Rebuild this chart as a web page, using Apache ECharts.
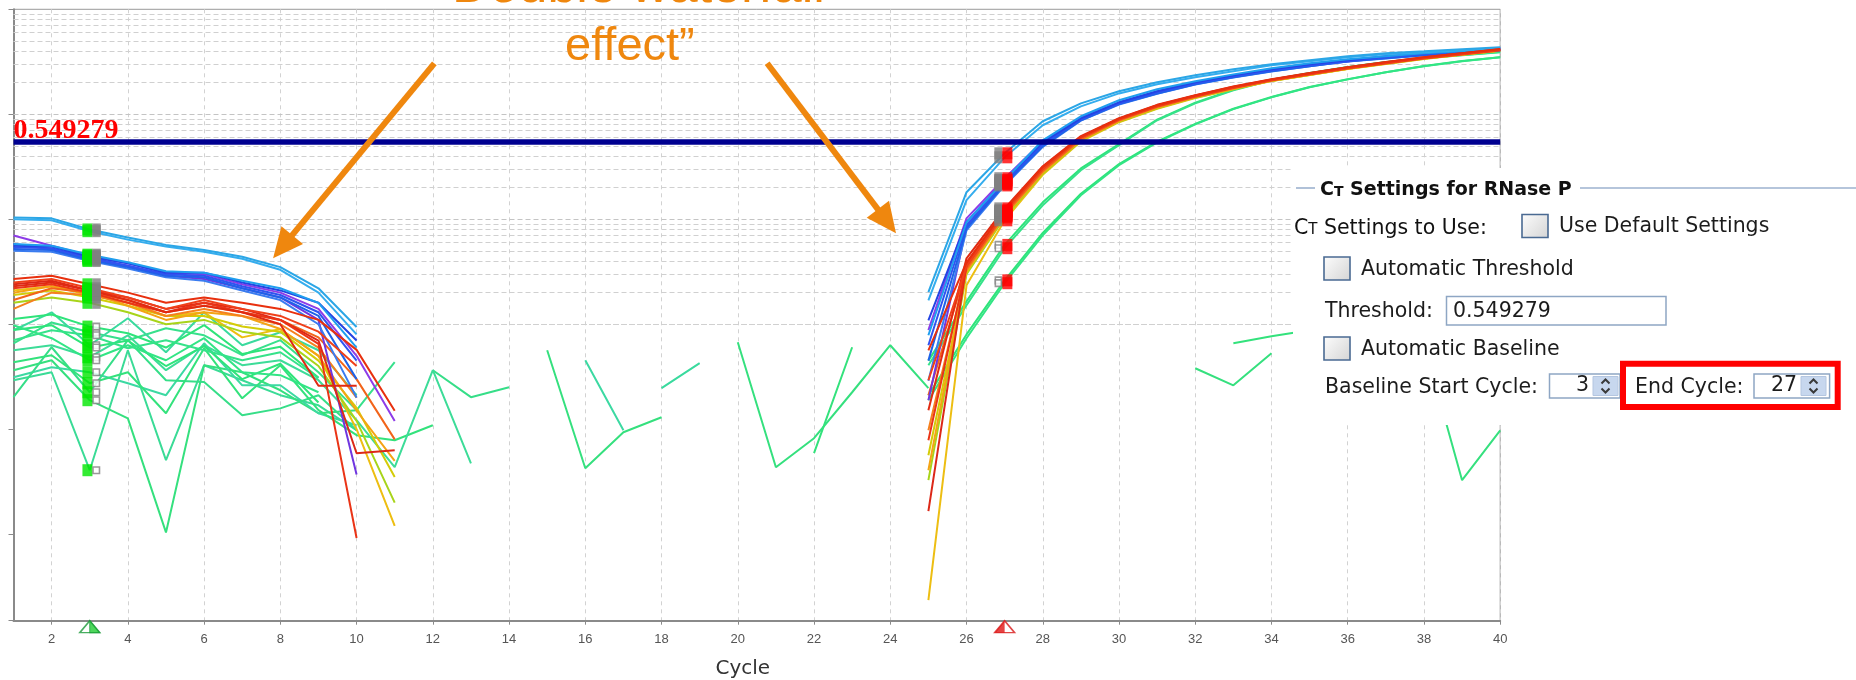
<!DOCTYPE html>
<html><head><meta charset="utf-8">
<script src="https://cdn.jsdelivr.net/npm/echarts@6/dist/echarts.min.js"></script>
<style>html,body{margin:0;padding:0;background:#fff}#chart{width:1856px;height:680px}</style>
</head><body><div id="chart"></div>
<script>
const _ = null;
const cycles = [1,2,3,4,5,6,7,8,9,10,11,12,13,14,15,16,17,18,19,20,21,22,23,24,25,26,27,28,29,30,31,32,33,34,35,36,37,38,39,40];
const xTickLabels = [2,4,6,8,10,12,14,16,18,20,22,24,26,28,30,32,34,36,38,40];
const threshold = 0.549279;
const thresholdLabel = '0.549279';
const baselineStart = 3;
const baselineEnd = 27;
const yMin = 1.5e-5, yMax = 10;

// Normalized fluorescence per cycle (cycles 1..40), null = not drawn (<= 0)
const lightBlue1 = [0.104,0.102,0.080,0.067,0.057,0.051,0.044,0.035,0.022,0.0094,_, _,_,_,_,_,_,_,_,_,_,_,_,_, 0.0202,0.181,0.425,0.858,1.27,1.66,2.02,2.35,2.68,2.99,3.27,3.57,3.81,3.98,4.16,4.35];
const lightBlue2 = [0.100,0.098,0.077,0.064,0.055,0.049,0.042,0.033,0.020,0.0080,_, _,_,_,_,_,_,_,_,_,_,_,_,_, 0.0169,0.152,0.389,0.786,1.19,1.58,1.93,2.25,2.57,2.93,3.20,3.49,3.73,3.89,4.07,4.25];
const lightBlue3 = [0.058,0.056,0.046,0.039,0.032,0.031,0.026,0.022,0.016,0.0060,_, _,_,_,_,_,_,_,_,_,_,_,_,_, 0.00785,0.0936,0.235,0.565,0.957,1.36,1.73,2.06,2.40,2.74,3.06,3.34,3.57,3.81,3.98,4.25];
const blue1 = [0.056,0.055,0.044,0.038,0.031,0.031,0.025,0.021,0.016,0.0070,_, _,_,_,_,_,_,_,_,_,_,_,_,_, 0.0109,0.094,0.235,0.541,0.916,1.30,1.66,2.02,2.35,2.68,2.99,3.27,3.57,3.81,3.98,4.25];
const blue2 = [0.054,0.053,0.043,0.036,0.030,0.029,0.023,0.019,0.013,0.0045,_, _,_,_,_,_,_,_,_,_,_,_,_,_, 0.0063,0.0877,0.225,0.518,0.896,1.27,1.62,1.97,2.30,2.62,2.93,3.20,3.49,3.73,3.89,4.16];
const blue3 = [0.052,0.051,0.041,0.035,0.029,0.028,0.022,0.018,0.012,0.0030,_, _,_,_,_,_,_,_,_,_,_,_,_,_, 0.0045,0.082,0.216,0.496,0.877,1.25,1.58,1.93,2.25,2.57,2.87,3.20,3.41,3.65,3.89,4.07];
const blue4 = [0.050,0.049,0.040,0.034,0.028,0.026,0.021,0.017,0.010,0.0020,_, _,_,_,_,_,_,_,_,_,_,_,_,_, 0.0029,0.0785,0.210,0.490,0.870,1.24,1.57,1.92,2.24,2.56,2.86,3.18,3.40,3.64,3.88,4.06];
const purple1 = [0.070,0.056,0.045,0.038,0.031,0.030,0.024,0.020,0.014,0.0050,0.0012, _,_,_,_,_,_,_,_,_,_,_,_,_, 0.0088,0.102,0.246,0.553,0.936,1.30,1.66,2.02,2.35,2.68,2.99,3.27,3.57,3.81,3.98,4.25];
const purple2 = [0.058,0.052,0.042,0.036,0.029,0.027,0.022,0.018,0.011,0.00037,_, _,_,_,_,_,_,_,_,_,_,_,_,_, 0.00189,0.085,0.220,0.510,0.890,1.26,1.60,1.95,2.28,2.60,2.90,3.19,3.45,3.70,3.88,4.12];
const red1 = [0.027,0.029,0.024,0.020,0.016,0.018,0.016,0.014,0.011,0.0057,0.0015, _,_,_,_,_,_,_,_,_,_,_,_,_, 0.00565,0.0389,0.122,0.315,0.61,0.91,1.22,1.51,1.83,2.15,2.46,2.80,3.13,3.49,3.81,4.16];
const red2 = [0.025,0.027,0.022,0.018,0.014,0.017,0.014,0.012,0.0085,0.0040,_, _,_,_,_,_,_,_,_,_,_,_,_,_, 0.00293,0.0357,0.117,0.300,0.60,0.89,1.19,1.48,1.79,2.11,2.40,2.74,3.06,3.41,3.73,4.07];
const red3 = [0.023,0.025,0.021,0.017,0.013,0.015,0.013,0.010,0.0026,0.0026,_, _,_,_,_,_,_,_,_,_,_,_,_,_, 0.00152,0.0425,0.127,0.320,0.62,0.92,1.23,1.52,1.84,2.16,2.47,2.81,3.14,3.50,3.82,4.18];
const red4 = [0.022,0.024,0.020,0.016,0.013,0.016,0.013,0.011,0.0065,0.000092,_, _,_,_,_,_,_,_,_,_,_,_,_,_, 0.000785,0.036,0.118,0.305,0.60,0.90,1.20,1.49,1.80,2.12,2.42,2.76,3.08,3.43,3.75,4.10];
const red5 = [0.024,0.026,0.021,0.018,0.014,0.016,0.014,0.011,0.0070,0.00059,0.00063, _,_,_,_,_,_,_,_,_,_,_,_,_, 0.000166,0.037,0.120,0.310,0.605,0.905,1.21,1.50,1.81,2.13,2.44,2.78,3.10,3.45,3.78,4.12];
const orange1 = [0.017,0.022,0.020,0.017,0.013,0.015,0.013,0.011,0.0075,0.0030,0.0008, _,_,_,_,_,_,_,_,_,_,_,_,_, 0.00211,0.0341,0.112,0.290,0.58,0.88,1.18,1.47,1.78,2.11,2.40,2.74,3.06,3.41,3.73,4.07];
const orange2 = [0.014,0.020,0.019,0.016,0.012,0.014,0.012,0.010,0.0060,0.0020,_, _,_,_,_,_,_,_,_,_,_,_,_,_, 0.000977,0.033,0.110,0.285,0.575,0.87,1.17,1.46,1.77,2.10,2.39,2.73,3.05,3.40,3.72,4.06];
const orange3 = [0.020,0.023,0.020,0.015,0.011,0.013,0.012,0.009,0.0050,0.0015,0.0005, _,_,_,_,_,_,_,_,_,_,_,_,_, 0.000407,0.032,0.108,0.280,0.57,0.86,1.16,1.45,1.76,2.09,2.38,2.72,3.04,3.39,3.71,4.05];
const yellow1 = [0.019,0.021,0.018,0.015,0.012,0.012,0.0095,0.0085,0.0045,0.0016,0.00035, _,_,_,_,_,_,_,_,_,_,_,_,_, 0.000565,0.0313,0.107,0.278,0.565,0.855,1.15,1.45,1.75,2.09,2.38,2.72,3.04,3.39,3.71,4.05];
const yellowGreen = [0.016,0.018,0.016,0.013,0.010,0.011,0.0085,0.0075,0.0040,0.0012,0.00020, _,_,_,_,_,_,_,_,_,_,_,_,_, 0.000327,0.030,0.104,0.272,0.56,0.85,1.14,1.44,1.74,2.08,2.37,2.71,3.03,3.38,3.70,4.04];
const yellow2 = [0.021,0.023,0.019,0.016,0.012,0.013,0.0075,0.0090,0.0050,0.0010,0.00012, _,_,_,_,_,_,_,_,_,_,_,_,_, 0.0000235,0.0235,0.0977,0.265,0.55,0.84,1.13,1.43,1.73,2.07,2.36,2.70,3.02,3.37,3.69,4.03];
const greenAmp1 = [0.00705,0.00877,0.00785,0.00591,0.00705,0.00565,0.00454,0.00541,0.00306,_,_, _,_,_,_,_,_,_,_,_,_,_,_,_, 0.00407,0.0152,0.053,0.136,0.293,0.507,0.877,1.27,1.69,2.11,2.46,2.80,3.13,3.41,3.65,3.89];
const greenAmp1b = [0.0112,0.0124,0.0095,0.0082,0.0060,0.0098,0.0052,0.0061,0.0031,_,_, _,_,_,_,_,_,_,_,_,_,_,_,_, 0.0045,0.0165,0.057,0.145,0.305,0.52,0.89,1.29,1.71,2.13,2.48,2.82,3.15,3.43,3.67,3.91];
const greenAmp2 = [0.00977,0.00736,0.00454,0.00631,0.00454,0.00736,0.00349,0.00327,0.00225,_,_, _,_,_,_,_,_,_,_,_,_,_,_,_, 0.00189,0.00736,0.0246,0.0704,0.169,0.327,0.541,0.803,1.12,1.45,1.81,2.15,2.51,2.87,3.20,3.49];
const greenAmp2b = [0.0088,0.0098,0.0060,0.0070,0.0040,0.0062,0.0030,0.0042,0.0018,_,_, _,_,_,_,_,_,_,_,_,_,_,_,_, 0.0021,0.0080,0.0262,0.074,0.175,0.335,0.55,0.81,1.13,1.46,1.82,2.16,2.52,2.88,3.21,3.50];
const green1 = [0.00877,0.0130,0.00631,0.0114,0.00541,0.0130,0.00631,0.00839,0.00565,0.00211,_, _,_,_,_,_,_,0.00246,0.00426,_,_,_,_,_, _,_,_,_,_,_,_,_,_,_,_,_,_,_,_,_];
const green2 = [0.00659,0.0104,0.00839,0.00705,0.00916,0.00785,0.00507,0.00705,0.00349,0.00152,0.00435, _,_,_,_,_,_,_,_,_,_,_,_,_, _,_,_,_,_,_,_,_,_,_,_,_,_,_,_,_];
const green3 = [0.00565,0.00631,0.00485,0.00785,0.00365,0.00631,0.00407,0.00454,0.00293,0.00122,0.000435, 0.00365,0.000474,_,_,_,_,_,_,_,_,_,_,_, _,_,_,_,_,_,_,_,_,_,_,_,_,_,_,_];
const green4 = [0.00435,0.00507,0.00274,0.00349,0.00142,0.00591,0.00197,0.00407,0.00152,0.000877,0.000785, 0.00109,_,_,_,_,_,_,_,_,_,0.000591,0.00604,_, _,_,_,_,_,_,_,_,0.00659,0.00769,0.00877,_,_,_,_,_];
const green5 = [0.00202,0.00604,0.00225,0.00705,0.00293,0.00281,0.00136,0.00158,0.00211,0.000977,_, 0.00365,0.00202,0.00251,_,_,_,_,_,_,_,_,_,_, _,_,_,_,_,_,_,_,_,_,_,_,_,_,_,_];
const green6 = [0.00293,0.00349,0.000407,0.00565,0.000507,0.00407,0.00293,0.00211,0.00169,0.000977,_, _,_,_,_,_,_,_,_,_,_,_,_,_, _,_,_,_,_,_,_,_,_,_,_,_,_,_,_,_];
const green7 = [0.00365,0.00454,0.00189,0.00127,0.000104,0.00407,0.00349,0.00235,0.00142,0.00152,_, _,_,_,0.00565,0.000425,0.000936,0.0013,_,0.00674,0.000435,0.000821,0.00225,0.00631, 0.00246,_,_,_,_,_,_,0.00381,0.00262,0.0053,_,_,_,0.00659,0.000327,0.000977];
const green8 = [0.00313,0.00389,0.00349,0.00274,0.00211,0.00659,0.00262,0.00262,0.00142,0.00109,_, _,_,_,_,0.00454,0.000977,_,_,_,_,_,_,_, _,_,_,_,_,_,_,_,_,_,_,_,_,_,_,_];

const curves = [
  {name:'green6', values:green6, color:'#3ADB96', green:true},
  {name:'green7', values:green7, color:'#35E07E', green:true},
  {name:'green8', values:green8, color:'#3CD9A2', green:true},
  {name:'green5', values:green5, color:'#36DE88', green:true},
  {name:'green4', values:green4, color:'#33E27C', green:true},
  {name:'green3', values:green3, color:'#3DDC98', green:true},
  {name:'green2', values:green2, color:'#38E08C', green:true},
  {name:'green1', values:green1, color:'#3ADA9E', green:true},
  {name:'greenAmp2b', values:greenAmp2b, color:'#2EE47A', green:true},
  {name:'greenAmp2', values:greenAmp2, color:'#32E585', green:true},
  {name:'greenAmp1b', values:greenAmp1b, color:'#2EE47A', green:true},
  {name:'greenAmp1', values:greenAmp1, color:'#36E28A', green:true},
  {name:'yellow2', values:yellow2, color:'#EDBE12'},
  {name:'yellowGreen', values:yellowGreen, color:'#A8D41A'},
  {name:'yellow1', values:yellow1, color:'#D4CC08'},
  {name:'orange3', values:orange3, color:'#F4A414'},
  {name:'orange2', values:orange2, color:'#F5801E'},
  {name:'orange1', values:orange1, color:'#F2641A'},
  {name:'purple2', values:purple2, color:'#7036E0'},
  {name:'purple1', values:purple1, color:'#8E3CE8'},
  {name:'blue4', values:blue4, color:'#3A7CF0'},
  {name:'blue3', values:blue3, color:'#1E62E8'},
  {name:'blue2', values:blue2, color:'#2F54F0'},
  {name:'blue1', values:blue1, color:'#2344E4'},
  {name:'lightBlue3', values:lightBlue3, color:'#1F9EEE'},
  {name:'lightBlue2', values:lightBlue2, color:'#35ADEE'},
  {name:'lightBlue1', values:lightBlue1, color:'#2BA6E6'},
  {name:'red5', values:red5, color:'#DC2818'},
  {name:'red4', values:red4, color:'#EA3416'},
  {name:'red3', values:red3, color:'#E02A12'},
  {name:'red2', values:red2, color:'#F0401A'},
  {name:'red1', values:red1, color:'#E8300E'}
];

// grid line values of the log axis
const decadeValues = [1e-4, 1e-3, 1e-2, 1e-1, 1];
const minorMultipliers = [2,3,4,5,6,7,8,9];
const minorValues = [];
[1e-5,1e-4,1e-3,1e-2,1e-1,1].forEach(d => minorMultipliers.forEach(m => { const v = m*d; if (v > yMin && v < yMax) minorValues.push(v); }));

// annotation arrows (cycle, value): tail -> tip
const arrowLeft = {from:[12.04, 3.06], to:[7.81, 0.0425]};
const arrowRight = {from:[20.77, 3.06], to:[24.15, 0.0736]};

const startIdx = cycles.indexOf(baselineStart);
const endIdx = cycles.indexOf(baselineEnd);

const chart = echarts.init(document.getElementById('chart'), null, {renderer:'canvas'});

const lineSeries = curves.map(c => ({
  type:'line', name:c.name, z:2, silent:true, animation:false,
  symbol:'none', showSymbol:false, connectNulls:false,
  data: cycles.map((x,i) => [x, c.values[i] == null ? null : c.values[i]]),
  lineStyle:{color:c.color, width:2}, itemStyle:{color:c.color}
}));

const pick = (idx, isGreen) => curves.filter(c => !!c.green === isGreen && c.values[idx] != null).map(c => [cycles[idx], c.values[idx]]);

const markerSeries = [
  {type:'scatter', z:4, silent:true, animation:false, symbol:'rect', symbolSize:[10,12], symbolOffset:[-2.3,0], itemStyle:{color:'#00E600'}, data: pick(startIdx,false).concat(pick(startIdx,true))},
  {type:'scatter', z:4, silent:true, animation:false, symbol:'rect', symbolSize:[8.5,12], symbolOffset:[6.8,0], itemStyle:{color:'#808080'}, data: pick(startIdx,false)},
  {type:'scatter', z:4, silent:true, animation:false, symbol:'rect', symbolSize:[6.5,6.5], symbolOffset:[6.5,0], itemStyle:{color:'#ffffff', borderColor:'#808080', borderWidth:1.6}, data: pick(startIdx,true)},
  {type:'scatter', z:4, silent:true, animation:false, symbol:'rect', symbolSize:[8,12], symbolOffset:[-6.3,0], itemStyle:{color:'#808080'}, data: pick(endIdx,false)},
  {type:'scatter', z:4, silent:true, animation:false, symbol:'rect', symbolSize:[6,6.5], symbolOffset:[-6.3,0], itemStyle:{color:'#ffffff', borderColor:'#808080', borderWidth:1.6}, data: pick(endIdx,true)},
  {type:'scatter', z:4, silent:true, animation:false, symbol:'rect', symbolSize:[10,12], symbolOffset:[2.7,0], itemStyle:{color:'#FF0000'}, data: pick(endIdx,false).concat(pick(endIdx,true))},
  // baseline start / end triangles on the axis
  {type:'scatter', z:5, clip:false, silent:true, animation:false, symbol:'triangle', symbolSize:[20,12], symbolOffset:[0,6], itemStyle:{color:'#ffffff', borderColor:'#1B9A3A', borderWidth:1.5}, data:[[baselineStart, yMin]]},
  {type:'scatter', z:6, clip:false, silent:true, animation:false, symbol:'path://M0,0 L10,20 L0,20 Z', symbolKeepAspect:false, symbolSize:[10,12], symbolOffset:[5,6], itemStyle:{color:'#22CC33', borderColor:'#1B9A3A', borderWidth:1}, data:[[baselineStart, yMin]]},
  {type:'scatter', z:5, clip:false, silent:true, animation:false, symbol:'triangle', symbolSize:[20,12], symbolOffset:[0,6], itemStyle:{color:'#ffffff', borderColor:'#D81818', borderWidth:1.5}, data:[[baselineEnd, yMin]]},
  {type:'scatter', z:6, clip:false, silent:true, animation:false, symbol:'path://M10,0 L10,20 L0,20 Z', symbolKeepAspect:false, symbolSize:[10,12], symbolOffset:[-5,6], itemStyle:{color:'#E01414'}, data:[[baselineEnd, yMin]]}
];

const gridLineSeries = {
  type:'line', data:[], z:1, silent:true, animation:false,
  markLine:{silent:true, z:1, animation:false, symbol:['none','none'], label:{show:false},
    lineStyle:{color:'#d0d0d0', type:[5,3], width:1},
    emphasis:{disabled:true},
    data: decadeValues.map(v => ({yAxis:v, lineStyle:{color:'#c4c4c4', type:[5,3], width:1}}))
      .concat(minorValues.map(v => ({yAxis:v})))
  }
};

const thresholdSeries = {
  type:'line', data:[], z:8, silent:true, animation:false,
  markLine:{silent:true, z:8, animation:false, symbol:['none','none'],
    lineStyle:{color:'#000090', width:5.5, type:'solid'},
    emphasis:{disabled:true},
    label:{show:true, position:'insideStartTop', formatter:thresholdLabel, color:'#FF0000',
      fontFamily:'Liberation Serif', fontWeight:'bold', fontSize:28, distance:[0,-3], padding:0},
    data:[{yAxis:threshold}]
  }
};

const PF = 'DejaVu Sans';
const Z = 100;
const DY = 3;
function txt(text, x, y, extra) {
  return {type:'text', z:Z+2, x:x, y:y+DY, silent:true,
    style:Object.assign({text:text, fill:'#1c1c1c', fontSize:20.5, fontFamily:PF, align:'left', verticalAlign:'middle', textAlign:'left', textVerticalAlign:'middle'}, extra||{})};
}
function ctText(rest, x, y, size, bold) {
  const w = bold ? 'bold' : 'normal';
  return {type:'text', z:Z+2, x:x, y:y+DY, silent:true,
    style:{text:'{c|C}{t|T}{n|' + rest + '}', align:'left', verticalAlign:'middle', textAlign:'left', textVerticalAlign:'middle',
      rich:{
        c:{fontSize:size, fontFamily:PF, fontWeight:w, fill:'#111', verticalAlign:'bottom', lineHeight:size+3},
        t:{fontSize:Math.round(size*0.72), fontFamily:PF, fontWeight:w, fill:'#111', verticalAlign:'bottom', lineHeight:size+3, padding:[0,0,1,0]},
        n:{fontSize:size, fontFamily:PF, fontWeight:w, fill:'#111', verticalAlign:'bottom', lineHeight:size+3}
      }}};
}
function checkbox(x, y) {
  return {type:'rect', z:Z+1, silent:true, shape:{x:x, y:y, width:26, height:23},
    style:{fill:new echarts.graphic.LinearGradient(0,0,1,1,[{offset:0,color:'#fdfdfd'},{offset:1,color:'#d4d4d4'}]), stroke:'#4A6A92', lineWidth:1.6}};
}
function spinner(x, y, w, value, btnX) {
  return [
    {type:'rect', z:Z+1, silent:true, shape:{x:x, y:y, width:w, height:24}, style:{fill:'#fff', stroke:'#8EA6C4', lineWidth:1.5}},
    {type:'rect', z:Z+1, silent:true, shape:{x:btnX, y:y+2.5, width:25, height:19}, style:{fill:'#C7D7EE', stroke:'#B4C6E0', lineWidth:1}},
    {type:'polyline', z:Z+2, silent:true, shape:{points:[[btnX+8.5,y+9.5],[btnX+12.5,y+5.5],[btnX+16.5,y+9.5]]}, style:{stroke:'#3A3A3A', lineWidth:2, fill:null}},
    {type:'polyline', z:Z+2, silent:true, shape:{points:[[btnX+8.5,y+14.5],[btnX+12.5,y+18.5],[btnX+16.5,y+14.5]]}, style:{stroke:'#3A3A3A', lineWidth:2, fill:null}},
    txt(value, btnX-4, y+12-DY, {align:'right', textAlign:'right'})
  ];
}

const panel = [
  {type:'rect', z:Z, silent:true, shape:{x:1293, y:168, width:563, height:257}, style:{fill:'#ffffff'}},
  {type:'line', z:Z+1, silent:true, shape:{x1:1296, y1:188, x2:1315, y2:188}, style:{stroke:'#9DB2CF', lineWidth:1.6}},
  {type:'line', z:Z+1, silent:true, shape:{x1:1580, y1:188, x2:1856, y2:188}, style:{stroke:'#9DB2CF', lineWidth:1.6}},
  ctText(' Settings for RNase P', 1320, 186, 19, true),
  ctText(' Settings to Use:', 1294, 224, 20.5, false),
  checkbox(1522, 214.5),
  txt('Use Default Settings', 1559, 224),
  checkbox(1324, 257),
  txt('Automatic Threshold', 1361, 267),
  txt('Threshold:', 1325, 309),
  {type:'rect', z:Z+1, silent:true, shape:{x:1446.5, y:296.5, width:219.5, height:28.5}, style:{fill:'#fff', stroke:'#8EA6C4', lineWidth:1.5}},
  txt('0.549279', 1453, 309),
  checkbox(1324, 337),
  txt('Automatic Baseline', 1361, 347),
  txt('Baseline Start Cycle:', 1325, 385),
  ...spinner(1549.5, 374, 70.5, '3', 1593),
  {type:'rect', z:Z+3, silent:true, shape:{x:1623, y:363.7, width:214.7, height:43.3}, style:{fill:null, stroke:'#FF0000', lineWidth:6}},
  txt('End Cycle:', 1635, 385),
  ...spinner(1754, 374, 75.6, '27', 1801)
];

const annotation = [
  {type:'text', z:Z+5, x:434.7, y:-12.7, silent:true, style:{text:'\u201CDouble waterfall', fill:'#EF870E', fontSize:52, fontFamily:'Liberation Sans', align:'left', verticalAlign:'middle', textAlign:'left', textVerticalAlign:'middle'}},
  {type:'text', z:Z+5, x:565, y:47, silent:true, style:{text:'effect\u201D', fill:'#EF870E', fontSize:47, fontFamily:'Liberation Sans', align:'left', verticalAlign:'middle', textAlign:'left', textVerticalAlign:'middle'}}
];

const option = {
  animation:false,
  backgroundColor:'#ffffff',
  textStyle:{fontFamily:'Liberation Sans'},
  grid:{left:13.5, right:355.8, top:9.3, bottom:59.3, containLabel:false, outerBoundsMode:'none',
    show:true, borderColor:'#9a9a9a', borderWidth:1, backgroundColor:'transparent'},
  xAxis:{type:'value', min:1, max:40, splitNumber:20,
    axisLine:{onZero:false, lineStyle:{color:'#8a8a8a', width:2}},
    axisTick:{show:true, length:4, lineStyle:{color:'#8a8a8a'}},
    axisLabel:{color:'#555', fontSize:13, fontFamily:'Liberation Sans', margin:12, showMinLabel:false,
      formatter: v => (xTickLabels.indexOf(v) >= 0 ? String(v) : '')},
    splitLine:{show:true, lineStyle:{color:'#d2d2d2', type:[4,4], width:1}},
    name:'Cycle', nameLocation:'middle', nameGap:38,
    nameTextStyle:{fontSize:20, color:'#333', fontFamily:'DejaVu Sans', padding:[0,28,0,0]}
  },
  yAxis:{type:'log', logBase:10, min:yMin, max:yMax,
    axisLine:{show:true, onZero:false, lineStyle:{color:'#8a8a8a', width:2}},
    axisTick:{show:true, length:5, lineStyle:{color:'#8a8a8a'}},
    axisLabel:{show:false},
    splitLine:{show:false}, minorTick:{show:false}, minorSplitLine:{show:false}
  },
  series:[gridLineSeries].concat(lineSeries, markerSeries, [thresholdSeries])
};
chart.setOption(option);

// arrows: positions through the chart's own scales
function arrowElements(a) {
  const p1 = chart.convertToPixel({gridIndex:0}, a.from);
  const p2 = chart.convertToPixel({gridIndex:0}, a.to);
  const dx = p2[0]-p1[0], dy = p2[1]-p1[1];
  const L = Math.sqrt(dx*dx+dy*dy), ux = dx/L, uy = dy/L;
  const headLen = 30, headHalf = 14;
  const bx = p2[0]-ux*headLen, by = p2[1]-uy*headLen;
  return [
    {type:'line', z:Z+4, silent:true, shape:{x1:p1[0], y1:p1[1], x2:bx+ux*2, y2:by+uy*2}, style:{stroke:'#EF870E', lineWidth:6}},
    {type:'polygon', z:Z+4, silent:true, shape:{points:[[p2[0],p2[1]],[bx-uy*headHalf, by+ux*headHalf],[bx+uy*headHalf, by-ux*headHalf]]}, style:{fill:'#EF870E'}}
  ];
}
chart.setOption({graphic:{elements: panel.concat(annotation, arrowElements(arrowLeft), arrowElements(arrowRight))}});
</script>
</body></html>
